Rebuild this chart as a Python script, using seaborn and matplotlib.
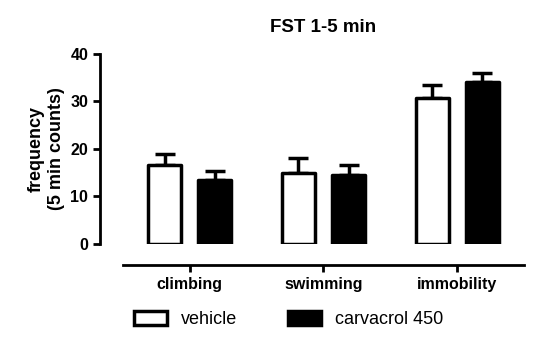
import matplotlib
matplotlib.use("Agg")
import matplotlib.pyplot as plt
from matplotlib.patches import Patch
import numpy as np
import pandas as pd
import seaborn as sns

# values
categories = ["climbing", "swimming", "immobility"]
groups = ["vehicle", "carvacrol 450"]
vehicle_mean = [16.6, 14.9, 30.7]
vehicle_sem = [2.3, 3.2, 2.8]
carvacrol_mean = [13.5, 14.5, 34.0]
carvacrol_sem = [1.9, 2.1, 2.0]

df = pd.DataFrame({
    "behaviour": categories * 2,
    "group": [groups[0]] * 3 + [groups[1]] * 3,
    "mean": vehicle_mean + carvacrol_mean,
})
sems = {groups[0]: vehicle_sem, groups[1]: carvacrol_sem}

sns.set_style("ticks")
plt.rcParams["font.family"] = ["Liberation Sans", "DejaVu Sans"]
plt.rcParams["text.color"] = "black"
plt.rcParams["axes.labelcolor"] = "black"
plt.rcParams["xtick.color"] = "black"
plt.rcParams["ytick.color"] = "black"
plt.rcParams["axes.edgecolor"] = "black"

fig = plt.figure(figsize=(5.5, 3.4), dpi=100)
ax = fig.add_axes([0.2236, 0.2824, 0.7291, 0.5588])

sns.barplot(data=df, x="behaviour", y="mean", hue="group", order=categories,
            hue_order=groups, palette=["white", "black"], edgecolor="black",
            linewidth=2.5, width=0.75, gap=0.34, errorbar=None, legend=False, ax=ax)

# error bars (upper only)
for grp, cont in zip(groups, ax.containers):
    xs = [b.get_x() + b.get_width() / 2 for b in cont]
    hs = [b.get_height() for b in cont]
    ax.errorbar(xs, hs, yerr=[np.zeros(len(hs)), sems[grp]], fmt="none",
                ecolor="black", elinewidth=2.5, capsize=7, capthick=2.5, zorder=0)
for b in ax.patches:
    b.set_joinstyle("round")

ax.set_xlim(-0.5, 2.5)
ax.set_ylim(0, 40)
ax.set_yticks([0, 10, 20, 30, 40])
ax.set_xlabel("")
ax.set_ylabel("frequency\n(5 min counts)", fontsize=13, fontweight="bold", labelpad=4)
ax.set_title("FST 1-5 min", fontsize=13.5, fontweight="bold", pad=16)

for side in ["top", "right"]:
    ax.spines[side].set_visible(False)
ax.spines["left"].set_position(("outward", 16.5))
ax.spines["bottom"].set_position(("outward", 15))
ax.spines["left"].set_bounds(0, 40)
ax.spines["left"].set_linewidth(2)
ax.spines["bottom"].set_linewidth(2)
ax.tick_params(axis="both", width=2, length=5, labelsize=11.5, direction="out")
for lab in ax.get_xticklabels() + ax.get_yticklabels():
    lab.set_fontweight("bold")

handles = [Patch(facecolor="white", edgecolor="black", linewidth=2.5, label=groups[0]),
           Patch(facecolor="black", edgecolor="black", linewidth=2.5, label=groups[1])]
fig.legend(handles=handles, loc="center", bbox_to_anchor=(0.525, 0.06), ncol=2,
           frameon=False, fontsize=13, handlelength=1.8, handleheight=0.8,
           columnspacing=2.8, handletextpad=0.8)

fig.savefig("out.png", dpi=100)
